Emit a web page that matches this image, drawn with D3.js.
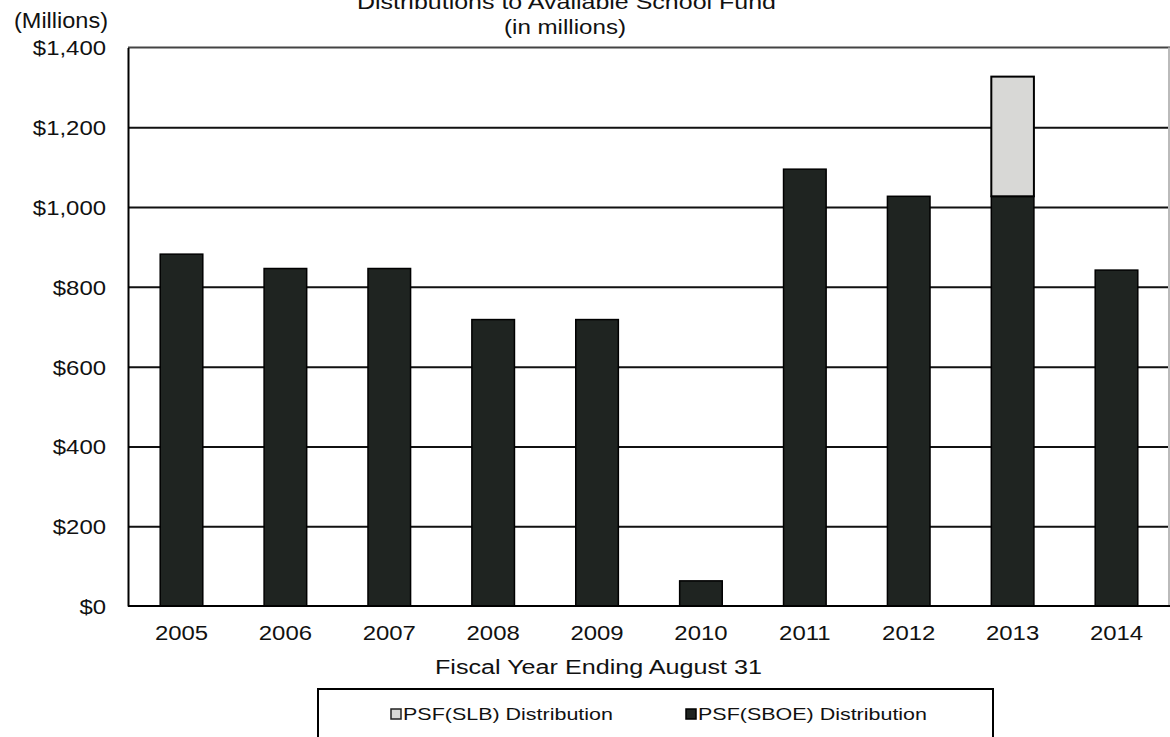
<!DOCTYPE html>
<html><head><meta charset="utf-8">
<script src="https://cdn.jsdelivr.net/npm/d3@7"></script>
<style>
body{margin:0;background:#fff;}
svg{display:block;font-family:"Liberation Sans",Arial,sans-serif;}
</style></head>
<body><svg id="c" width="1170" height="737"></svg>
<script>
const years = ["2005","2006","2007","2008","2009","2010","2011","2012","2013","2014"];
const sboe = [882, 846, 846, 718, 718, 63, 1095, 1027, 1027, 842];
const slb  = [0, 0, 0, 0, 0, 0, 0, 0, 300, 0];
const yTicks = [0, 200, 400, 600, 800, 1000, 1200, 1400];
const seriesNames = ["PSF(SLB) Distribution", "PSF(SBOE) Distribution"];

const svg = d3.select("#c");
const L = 128, R = 1170, T = 47.5, B = 606;
const SX = 1.14;
const x = d3.scaleBand().domain(years).range([L, R]).paddingInner(0.59).paddingOuter(0.31);
const y = d3.scaleLinear().domain([0, 1400]).range([B, T]);
const fmt = d => "$" + d3.format(",")(d);

// gridlines
const grid = svg.append("g").attr("transform", `translate(${L},0)`)
  .call(d3.axisLeft(y).tickValues(yTicks.filter(v => v > 0 && v < 1400)).tickSize(-(R - L)).tickFormat(""));
grid.select(".domain").remove();
grid.selectAll("line").attr("stroke", "#111").attr("stroke-width", 2);

// top and right border
svg.append("line").attr("x1", L).attr("x2", R).attr("y1", y(1400)).attr("y2", y(1400)).attr("stroke", "#444").attr("stroke-width", 2);
svg.append("line").attr("x1", R - 1).attr("x2", R - 1).attr("y1", y(1400)).attr("y2", B).attr("stroke", "#bbb").attr("stroke-width", 2);

// bars
const g = svg.append("g");
g.selectAll("rect.sboe").data(years).join("rect").attr("class", "sboe")
  .attr("x", d => x(d)).attr("width", x.bandwidth())
  .attr("y", (d, i) => y(sboe[i])).attr("height", (d, i) => y(0) - y(sboe[i]))
  .attr("fill", "#1f2421").attr("stroke", "#000").attr("stroke-width", 1.5);
g.selectAll("rect.slb").data(years.filter((d, i) => slb[i] > 0)).join("rect").attr("class", "slb")
  .attr("x", d => x(d)).attr("width", x.bandwidth())
  .attr("y", d => { const i = years.indexOf(d); return y(sboe[i] + slb[i]); })
  .attr("height", d => { const i = years.indexOf(d); return y(sboe[i]) - y(sboe[i] + slb[i]); })
  .attr("fill", "#d8d8d6").attr("stroke", "#000").attr("stroke-width", 2);

// left axis
const ya = svg.append("g").attr("transform", `translate(${L},0)`)
  .call(d3.axisLeft(y).tickValues(yTicks).tickSize(0).tickFormat(fmt));
ya.select(".domain").attr("stroke", "#000").attr("stroke-width", 2);
ya.selectAll("text").attr("font-size", 21).attr("fill", "#111")
  .attr("x", -22 / SX).attr("dy", "0.35em").attr("transform", `scale(${SX},1)`)
  .style("font-family", "'Liberation Sans',Arial,sans-serif");

// bottom axis
const xa = svg.append("g").attr("transform", `translate(0,${B})`)
  .call(d3.axisBottom(x).tickSize(0));
xa.select(".domain").attr("stroke", "#000").attr("stroke-width", 2).attr("d", `M${L},0H${R}`);
xa.selectAll(".tick text").attr("font-size", 21).attr("fill", "#111")
  .attr("y", 0).attr("dy", 34).attr("transform", `scale(${SX},1)`)
  .style("font-family", "'Liberation Sans',Arial,sans-serif");

function txt(s, xx, yy, size, anchor, len) {
  const t = svg.append("text").attr("x", xx).attr("y", yy).attr("font-size", size)
    .attr("text-anchor", anchor).attr("fill", "#111").text(s);
  if (len) t.attr("textLength", len).attr("lengthAdjust", "spacingAndGlyphs");
  return t;
}
txt("Distributions to Available School Fund", 357, 9, 21, "start", 419);
txt("(in millions)", 504, 34, 21, "start", 122);
txt("(Millions)", 14, 28, 22, "start", 94);
txt("Fiscal Year Ending August 31", 435, 674, 20, "start", 327);

// legend
svg.append("rect").attr("x", 318).attr("y", 689).attr("width", 675).attr("height", 60)
  .attr("fill", "none").attr("stroke", "#000").attr("stroke-width", 2);
svg.append("rect").attr("x", 391).attr("y", 709).attr("width", 10).attr("height", 10)
  .attr("fill", "#d8d8d6").attr("stroke", "#222").attr("stroke-width", 1.5);
txt(seriesNames[0], 403, 720, 17, "start", 210);
svg.append("rect").attr("x", 686).attr("y", 709).attr("width", 10).attr("height", 10)
  .attr("fill", "#1f2421").attr("stroke", "#000").attr("stroke-width", 1.5);
txt(seriesNames[1], 698, 720, 17, "start", 229);
</script></body></html>
